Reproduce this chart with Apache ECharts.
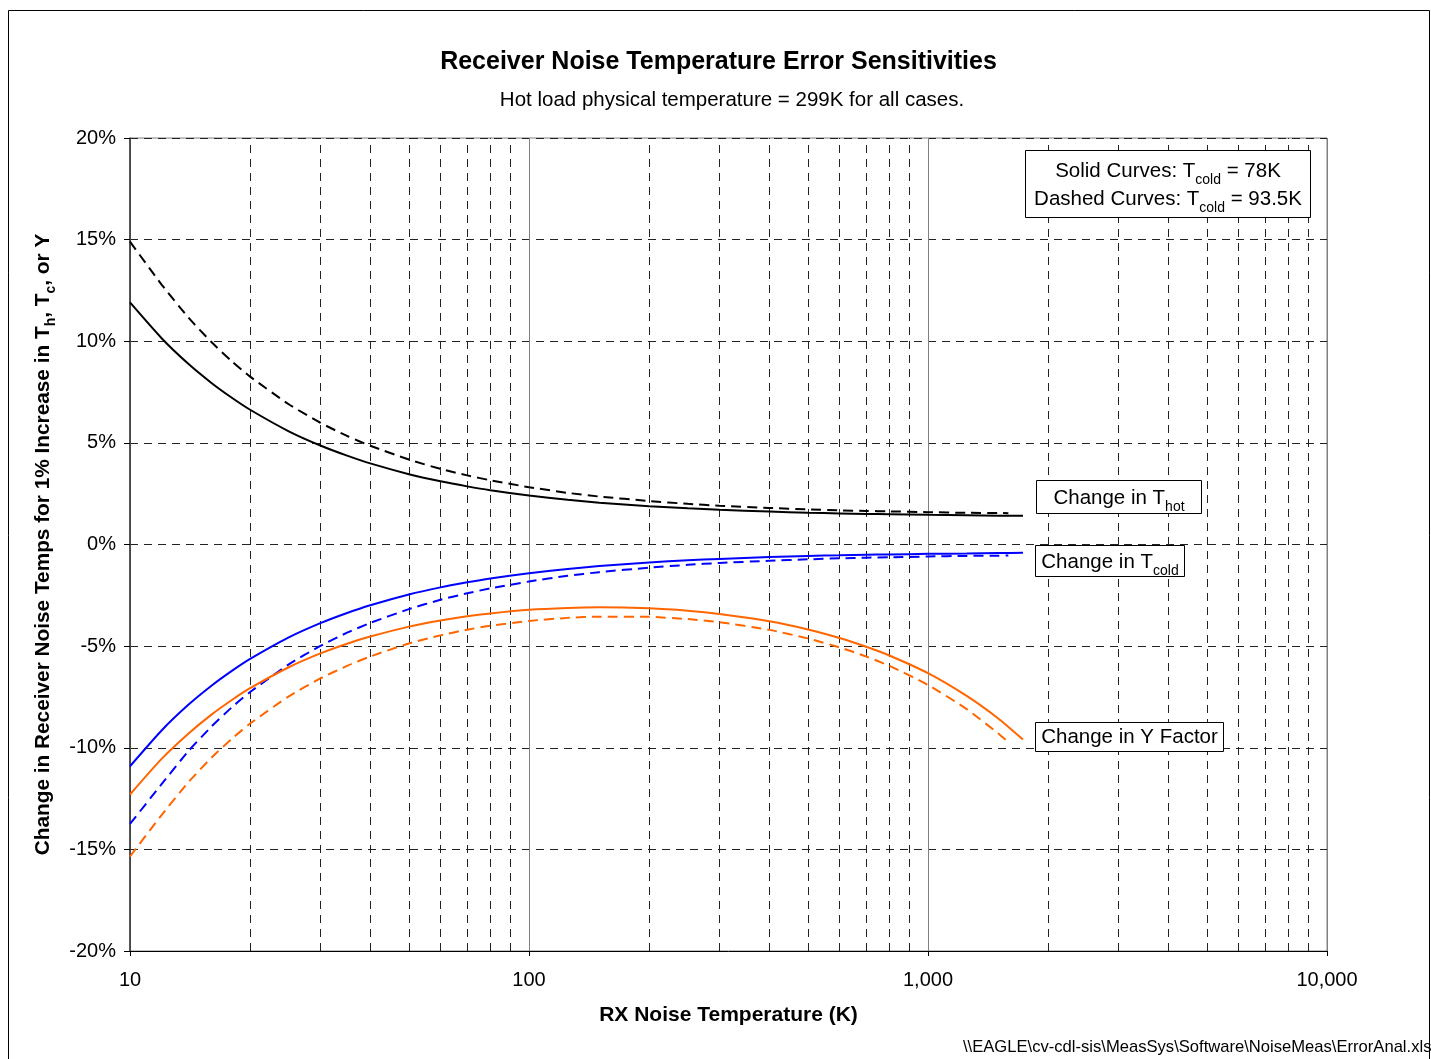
<!DOCTYPE html>
<html>
<head>
<meta charset="utf-8">
<script src="https://cdn.jsdelivr.net/npm/echarts@6/dist/echarts.min.js"></script>
<style>
html,body{margin:0;padding:0;background:#fff;}
#chart{width:1431px;height:1059px;}
</style>
</head>
<body>
<div id="chart"></div>
<script>
// RX noise temperatures (K)
const tempsSolid  = [10,12,14,16,18,20,25,30,35,40,50,60,70,80,100,125,150,200,250,300,400,500,600,700,800,1000,1250,1500,1730];
const tempsDashed = [10,12,14,16,18,20,25,30,35,40,50,60,70,80,100,125,150,200,250,300,400,500,600,700,800,1000,1250,1500,1590];

// Solid curves: Tcold = 78K (values in %)
const thotSolid  = [11.91,10.15,8.89,7.95,7.22,6.63,5.57,4.87,4.37,3.99,3.46,3.11,2.86,2.67,2.41,2.20,2.06,1.88,1.78,1.71,1.62,1.56,1.53,1.50,1.49,1.46,1.44,1.42,1.41];
const tcoldSolid = [-10.91,-9.15,-7.89,-6.95,-6.22,-5.63,-4.57,-3.87,-3.37,-2.99,-2.46,-2.11,-1.86,-1.67,-1.41,-1.20,-1.06,-0.88,-0.78,-0.71,-0.62,-0.56,-0.53,-0.50,-0.49,-0.46,-0.44,-0.42,-0.41];
const ySolid     = [-12.30,-10.55,-9.31,-8.37,-7.65,-7.07,-6.04,-5.36,-4.88,-4.53,-4.04,-3.74,-3.53,-3.39,-3.21,-3.12,-3.09,-3.14,-3.26,-3.42,-3.78,-4.18,-4.60,-5.03,-5.46,-6.33,-7.45,-8.56,-9.60];

// Dashed curves: Tcold = 93.5K (values in %)
const thotDashed  = [14.90,12.79,11.17,9.96,9.01,8.26,6.90,5.99,5.34,4.86,4.18,3.72,3.40,3.16,2.82,2.54,2.36,2.14,2.00,1.91,1.80,1.73,1.68,1.65,1.63,1.59,1.56,1.55,1.54];
const tcoldDashed = [-13.75,-11.79,-10.17,-8.96,-8.01,-7.26,-5.90,-4.99,-4.34,-3.86,-3.18,-2.72,-2.40,-2.16,-1.82,-1.54,-1.36,-1.14,-1.00,-0.91,-0.80,-0.73,-0.68,-0.65,-0.63,-0.59,-0.56,-0.55,-0.54];
const yDashed     = [-15.35,-13.31,-11.70,-10.49,-9.56,-8.81,-7.47,-6.59,-5.97,-5.51,-4.87,-4.47,-4.19,-4.00,-3.76,-3.61,-3.55,-3.56,-3.67,-3.82,-4.20,-4.62,-5.06,-5.51,-5.97,-6.91,-8.10,-9.30,-9.72];

// minor vertical gridlines
const minorGrid = [20,30,40,50,60,70,80,90,200,300,400,500,600,700,800,900,2000,3000,4000,5000,6000,7000,8000,9000];

const FONT = '"Liberation Sans", Arial, sans-serif';
const BLACK = '#000000', BLUE = '#0000FF', ORANGE = '#FF6600';

function pairs(xs, ys){ return xs.map((x,i)=>[x, ys[i]]); }
function curve(name, xs, ys, color, dashed){
  return {
    name, type:'line', data: pairs(xs, ys), symbol:'none', smooth:0.2, z:5,
    lineStyle:{color, width:2, type: dashed ? [10,6] : 'solid'},
    silent:true, animation:false
  };
}
const SUBRICH = {
  n:{fontFamily:FONT, fontSize:20.5, fill:'#000', lineHeight:26, verticalAlign:'bottom'},
  s:{fontFamily:FONT, fontSize:14, fill:'#000', lineHeight:15, verticalAlign:'bottom', padding:[0,0,-5,0]}
};

const chart = echarts.init(document.getElementById('chart'), null, {renderer:'canvas'});
const option = {
  animation:false,
  backgroundColor:'#ffffff',
  textStyle:{fontFamily:FONT, color:'#000'},
  grid:{left:130, right:104, top:138, bottom:108, show:true, borderColor:'#808080', borderWidth:1, containLabel:false},
  xAxis:{
    type:'log', logBase:10, min:10, max:10000, interval:1,
    name:'RX Noise Temperature (K)', nameLocation:'middle', nameGap:54,
    nameTextStyle:{fontFamily:FONT, fontSize:21, fontWeight:'bold', color:'#000'},
    axisLine:{show:true, onZero:false, lineStyle:{color:'#000', width:1}},
    axisTick:{show:true, inside:false, length:5, lineStyle:{color:'#000'}},
    axisLabel:{fontFamily:FONT, fontSize:20, color:'#000', margin:19,
      formatter:v=>Math.round(v).toLocaleString('en-US')},
    splitLine:{show:true, lineStyle:{color:'#808080', width:1, type:'solid'}},
    minorTick:{show:false}, minorSplitLine:{show:false}
  },
  yAxis:{
    type:'value', min:-20, max:20, interval:5,
    name:'{n|Change in Receiver Noise Temps for 1% Increase in T}{s|h}{n|, T}{s|c}{n|, or Y}',
    nameLocation:'middle', nameGap:76,
    nameTextStyle:{fontFamily:FONT, fontSize:20.8, fontWeight:'bold', color:'#000',
      rich:{
        n:{fontFamily:FONT, fontSize:20.8, fontWeight:'bold', color:'#000', lineHeight:26, verticalAlign:'bottom'},
        s:{fontFamily:FONT, fontSize:14, fontWeight:'bold', color:'#000', lineHeight:15, verticalAlign:'bottom', padding:[0,0,-4,0]}
      }},
    axisLine:{show:true, onZero:false, lineStyle:{color:'#333', width:1.5}},
    axisTick:{show:true, length:6, lineStyle:{color:'#000'}},
    axisLabel:{fontFamily:FONT, fontSize:20, color:'#000', margin:14, formatter:'{value}%'},
    splitLine:{show:true, lineStyle:{color:'#222', width:1, type:[8,6]}}
  },
  series:[
    {
      name:'minorGrid', type:'line', data:[[10,0]], symbol:'none', z:1, silent:true,
      lineStyle:{opacity:0},
      markLine:{
        silent:true, symbol:['none','none'], animation:false,
        label:{show:false},
        lineStyle:{color:'#222', width:1, type:[8,6]},
        data: minorGrid.map(v=>({xAxis:v}))
      }
    },
    curve('Thot 78K', tempsSolid, thotSolid, BLACK, false),
    curve('Thot 93.5K', tempsDashed, thotDashed, BLACK, true),
    curve('Tcold 78K', tempsSolid, tcoldSolid, BLUE, false),
    curve('Tcold 93.5K', tempsDashed, tcoldDashed, BLUE, true),
    curve('Y 78K', tempsSolid, ySolid, ORANGE, false),
    curve('Y 93.5K', tempsDashed, yDashed, ORANGE, true)
  ],
  graphic:[
    // outer border
    {type:'rect', shape:{x:8.5, y:10.5, width:1421, height:1100}, style:{fill:'none', stroke:'#000', lineWidth:1}, silent:true, z:0},
    // title & subtitle
    {type:'text', x:718.5, y:62, style:{text:'Receiver Noise Temperature Error Sensitivities', font:'bold 25px '+FONT, fill:'#000', textAlign:'center', textVerticalAlign:'middle'}, z:10},
    {type:'text', x:732, y:100, style:{text:'Hot load physical temperature = 299K for all cases.', font:'20.5px '+FONT, fill:'#000', textAlign:'center', textVerticalAlign:'middle'}, z:10},
    // legend box
    {type:'rect', shape:{x:1025.5, y:150.5, width:285, height:67}, style:{fill:'#fff', stroke:'#000', lineWidth:1}, z:20},
    {type:'text', x:1168, y:169, z:21, style:{text:'{n|Solid Curves: T}{s|cold}{n| = 78K}', textAlign:'center', textVerticalAlign:'middle', rich:SUBRICH}},
    {type:'text', x:1168, y:197, z:21, style:{text:'{n|Dashed Curves: T}{s|cold}{n| = 93.5K}', textAlign:'center', textVerticalAlign:'middle', rich:SUBRICH}},
    // curve labels
    {type:'rect', shape:{x:1036.5, y:480.5, width:165, height:33}, style:{fill:'#fff', stroke:'#000', lineWidth:1}, z:20},
    {type:'text', x:1119, y:496, z:21, style:{text:'{n|Change in T}{s|hot}', textAlign:'center', textVerticalAlign:'middle', rich:SUBRICH}},
    {type:'rect', shape:{x:1035.5, y:545.5, width:149, height:31}, style:{fill:'#fff', stroke:'#000', lineWidth:1}, z:20},
    {type:'text', x:1110, y:560, z:21, style:{text:'{n|Change in T}{s|cold}', textAlign:'center', textVerticalAlign:'middle', rich:SUBRICH}},
    {type:'rect', shape:{x:1035.5, y:722.5, width:188, height:29}, style:{fill:'#fff', stroke:'#000', lineWidth:1}, z:20},
    {type:'text', x:1129.5, y:737, z:21, style:{text:'Change in Y Factor', font:'20.5px '+FONT, fill:'#000', textAlign:'center', textVerticalAlign:'middle'}},
    // footnote
    {type:'text', x:963, y:1047, z:10, style:{text:'\\\\EAGLE\\cv-cdl-sis\\MeasSys\\Software\\NoiseMeas\\ErrorAnal.xls', font:'16.6px '+FONT, fill:'#000', textAlign:'left', textVerticalAlign:'middle'}}
  ]
};
chart.setOption(option);
</script>
</body>
</html>
